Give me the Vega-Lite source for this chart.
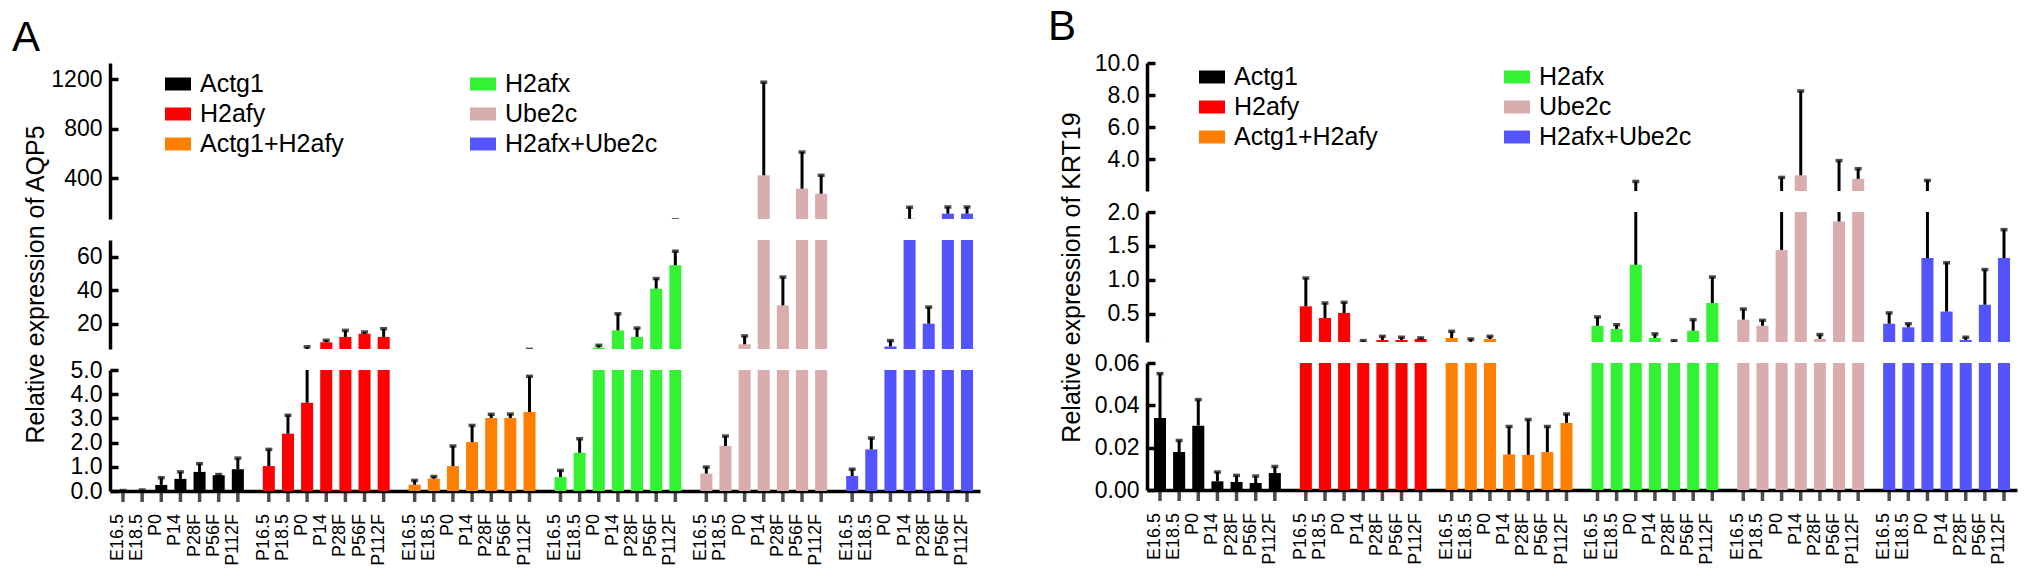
{
  "$schema": "https://vega.github.io/schema/vega-lite/v6.json",
  "background": "white",
  "padding": {"left": 12, "top": 6, "right": 5, "bottom": 5},
  "config": {
    "font": "Liberation Sans",
    "view": {"stroke": null},
    "axis": {"grid": false, "domainColor": "black", "domainWidth": 3.5, "tickColor": "black", "tickWidth": 3.5, "labelColor": "black", "labelFontSize": 23, "titleColor": "black", "titleFontSize": 25, "titleFontWeight": "normal"},
    "axisY": {"tickSize": -8, "labelPadding": 16, "labelOverlap": false},
    "legend": {"orient": "none", "columns": 2, "columnPadding": 126, "rowPadding": 4, "symbolType": "M-1,-0.5H1V0.5H-1Z", "symbolSize": 676, "symbolStrokeWidth": 0, "labelFontSize": 25, "labelOffset": 9, "labelColor": "black", "padding": 0, "title": null},
    "title": {"fontWeight": "normal", "color": "black"}
  },
  "datasets": {
    "a": [
      {"g": "Actg1", "t": "E16.5", "l": "E16.5", "m": 0.02, "u": 0.02},
      {"g": "Actg1", "t": "E18.5", "l": "E18.5", "m": 0.04, "u": 0.04},
      {"g": "Actg1", "t": "P0", "l": "P0", "m": 0.25, "u": 0.55},
      {"g": "Actg1", "t": "P14", "l": "P14", "m": 0.5, "u": 0.79},
      {"g": "Actg1", "t": "P28F", "l": "P28F", "m": 0.79, "u": 1.13},
      {"g": "Actg1", "t": "P56F", "l": "P56F", "m": 0.65, "u": 0.68},
      {"g": "Actg1", "t": "P112F", "l": "P112F", "m": 0.9, "u": 1.36},
      {"g": "H2afy", "t": "E16.5", "l": "P16.5", "m": 1.03, "u": 1.72},
      {"g": "H2afy", "t": "E18.5", "l": "P18.5", "m": 2.37, "u": 3.13},
      {"g": "H2afy", "t": "P0", "l": "P0", "m": 3.65, "u": 6.3},
      {"g": "H2afy", "t": "P14", "l": "P14", "m": 9.0, "u": 10.2},
      {"g": "H2afy", "t": "P28F", "l": "P28F", "m": 12.2, "u": 16.1},
      {"g": "H2afy", "t": "P56F", "l": "P56F", "m": 14.1, "u": 15.1},
      {"g": "H2afy", "t": "P112F", "l": "P112F", "m": 12.2, "u": 17.1},
      {"g": "Actg1+H2afy", "t": "E16.5", "l": "E16.5", "m": 0.26, "u": 0.44},
      {"g": "Actg1+H2afy", "t": "E18.5", "l": "E18.5", "m": 0.51, "u": 0.6},
      {"g": "Actg1+H2afy", "t": "P0", "l": "P0", "m": 1.03, "u": 1.86},
      {"g": "Actg1+H2afy", "t": "P14", "l": "P14", "m": 2.02, "u": 2.71},
      {"g": "Actg1+H2afy", "t": "P28F", "l": "P28F", "m": 3.02, "u": 3.17},
      {"g": "Actg1+H2afy", "t": "P56F", "l": "P56F", "m": 3.02, "u": 3.18},
      {"g": "Actg1+H2afy", "t": "P112F", "l": "P112F", "m": 3.26, "u": 4.74},
      {"g": "H2afx", "t": "E16.5", "l": "E16.5", "m": 0.58, "u": 0.85},
      {"g": "H2afx", "t": "E18.5", "l": "E18.5", "m": 1.58, "u": 2.16},
      {"g": "H2afx", "t": "P0", "l": "P0", "m": 5.8, "u": 7.2},
      {"g": "H2afx", "t": "P14", "l": "P14", "m": 16.1, "u": 26},
      {"g": "H2afx", "t": "P28F", "l": "P28F", "m": 12.2, "u": 17.5},
      {"g": "H2afx", "t": "P56F", "l": "P56F", "m": 41, "u": 47},
      {"g": "H2afx", "t": "P112F", "l": "P112F", "m": 54.9, "u": 63.3},
      {"g": "Ube2c", "t": "E16.5", "l": "E16.5", "m": 0.72, "u": 0.99},
      {"g": "Ube2c", "t": "E18.5", "l": "P18.5", "m": 1.86, "u": 2.27},
      {"g": "Ube2c", "t": "P0", "l": "P0", "m": 7.8, "u": 12.8},
      {"g": "Ube2c", "t": "P14", "l": "P14", "m": 423, "u": 1175},
      {"g": "Ube2c", "t": "P28F", "l": "P28F", "m": 31, "u": 47.9},
      {"g": "Ube2c", "t": "P56F", "l": "P56F", "m": 315, "u": 611},
      {"g": "Ube2c", "t": "P112F", "l": "P112F", "m": 274, "u": 423},
      {"g": "H2afx+Ube2c", "t": "E16.5", "l": "E16.5", "m": 0.62, "u": 0.9},
      {"g": "H2afx+Ube2c", "t": "E18.5", "l": "E18.5", "m": 1.72, "u": 2.19},
      {"g": "H2afx+Ube2c", "t": "P0", "l": "P0", "m": 6.5, "u": 10},
      {"g": "H2afx+Ube2c", "t": "P14", "l": "P14", "m": 72, "u": 165},
      {"g": "H2afx+Ube2c", "t": "P28F", "l": "P28F", "m": 20.1, "u": 30},
      {"g": "H2afx+Ube2c", "t": "P56F", "l": "P56F", "m": 113, "u": 167},
      {"g": "H2afx+Ube2c", "t": "P112F", "l": "P112F", "m": 113, "u": 167}
    ],
    "b": [
      {"g": "Actg1", "t": "E16.5", "l": "E16.5", "m": 0.034, "u": 0.055},
      {"g": "Actg1", "t": "E18.5", "l": "E18.5", "m": 0.0179, "u": 0.0234},
      {"g": "Actg1", "t": "P0", "l": "P0", "m": 0.0304, "u": 0.0427},
      {"g": "Actg1", "t": "P14", "l": "P14", "m": 0.0041, "u": 0.0085},
      {"g": "Actg1", "t": "P28F", "l": "P28F", "m": 0.0038, "u": 0.0069},
      {"g": "Actg1", "t": "P56F", "l": "P56F", "m": 0.0033, "u": 0.0066},
      {"g": "Actg1", "t": "P112F", "l": "P112F", "m": 0.008, "u": 0.0111},
      {"g": "H2afy", "t": "E16.5", "l": "P16.5", "m": 0.607, "u": 1.025},
      {"g": "H2afy", "t": "E18.5", "l": "P18.5", "m": 0.435, "u": 0.656},
      {"g": "H2afy", "t": "P0", "l": "P0", "m": 0.508, "u": 0.666},
      {"g": "H2afy", "t": "P14", "l": "P14", "m": 0.082, "u": 0.1},
      {"g": "H2afy", "t": "P28F", "l": "P28F", "m": 0.11, "u": 0.164},
      {"g": "H2afy", "t": "P56F", "l": "P56F", "m": 0.11, "u": 0.15},
      {"g": "H2afy", "t": "P112F", "l": "P112F", "m": 0.124, "u": 0.14},
      {"g": "Actg1+H2afy", "t": "E16.5", "l": "E16.5", "m": 0.139, "u": 0.238},
      {"g": "Actg1+H2afy", "t": "E18.5", "l": "E18.5", "m": 0.082, "u": 0.124},
      {"g": "Actg1+H2afy", "t": "P0", "l": "P0", "m": 0.124, "u": 0.164},
      {"g": "Actg1+H2afy", "t": "P14", "l": "P14", "m": 0.0168, "u": 0.03},
      {"g": "Actg1+H2afy", "t": "P28F", "l": "P28F", "m": 0.0166, "u": 0.0333},
      {"g": "Actg1+H2afy", "t": "P56F", "l": "P56F", "m": 0.0179, "u": 0.03},
      {"g": "Actg1+H2afy", "t": "P112F", "l": "P112F", "m": 0.0317, "u": 0.0359},
      {"g": "H2afx", "t": "E16.5", "l": "E16.5", "m": 0.32, "u": 0.45},
      {"g": "H2afx", "t": "E18.5", "l": "E18.5", "m": 0.272, "u": 0.335},
      {"g": "H2afx", "t": "P0", "l": "P0", "m": 1.22, "u": 2.6},
      {"g": "H2afx", "t": "P14", "l": "P14", "m": 0.139, "u": 0.2},
      {"g": "H2afx", "t": "P28F", "l": "P28F", "m": 0.082, "u": 0.1},
      {"g": "H2afx", "t": "P56F", "l": "P56F", "m": 0.247, "u": 0.41},
      {"g": "H2afx", "t": "P112F", "l": "P112F", "m": 0.656, "u": 1.04},
      {"g": "Ube2c", "t": "E16.5", "l": "E16.5", "m": 0.41, "u": 0.567},
      {"g": "Ube2c", "t": "E18.5", "l": "P18.5", "m": 0.32, "u": 0.4},
      {"g": "Ube2c", "t": "P0", "l": "P0", "m": 1.44, "u": 2.85},
      {"g": "Ube2c", "t": "P14", "l": "P14", "m": 2.98, "u": 8.25},
      {"g": "Ube2c", "t": "P28F", "l": "P28F", "m": 0.124, "u": 0.19},
      {"g": "Ube2c", "t": "P56F", "l": "P56F", "m": 1.86, "u": 3.9},
      {"g": "Ube2c", "t": "P112F", "l": "P112F", "m": 2.76, "u": 3.39},
      {"g": "H2afx+Ube2c", "t": "E16.5", "l": "E16.5", "m": 0.35, "u": 0.51},
      {"g": "H2afx+Ube2c", "t": "E18.5", "l": "E18.5", "m": 0.297, "u": 0.35},
      {"g": "H2afx+Ube2c", "t": "P0", "l": "P0", "m": 1.32, "u": 2.66},
      {"g": "H2afx+Ube2c", "t": "P14", "l": "P14", "m": 0.53, "u": 1.25},
      {"g": "H2afx+Ube2c", "t": "P28F", "l": "P28F", "m": 0.11, "u": 0.15},
      {"g": "H2afx+Ube2c", "t": "P56F", "l": "P56F", "m": 0.63, "u": 1.15},
      {"g": "H2afx+Ube2c", "t": "P112F", "l": "P112F", "m": 1.32, "u": 1.74}
    ]
  },
  "resolve": {"scale": {"color": "independent"}, "legend": {"color": "independent"}},
  "spacing": 68,
  "hconcat": [
    {
      "bounds": "flush",
      "spacing": 21,
      "resolve": {"scale": {"y": "independent", "color": "independent"}, "legend": {"color": "independent"}},
      "vconcat": [
        {
          "width": 870, "height": 156,
          "title": {"text": "A", "anchor": "start", "frame": "group", "fontSize": 42, "dx": -98, "offset": 3},
          "data": {"name": "a"},
          "encoding": {
            "x": {"field": "g", "type": "nominal", "scale": {"domain": ["Actg1", "H2afy", "Actg1+H2afy", "H2afx", "Ube2c", "H2afx+Ube2c"], "paddingInner": 0.0813, "paddingOuter": 0.0235}, "axis": null},
            "xOffset": {"field": "t", "type": "nominal", "scale": {"domain": ["E16.5", "E18.5", "P0", "P14", "P28F", "P56F", "P112F"], "paddingInner": 0.37, "paddingOuter": 0.185}}
          },
          "layer": [
            {"mark": {"type": "bar", "clip": true},
             "encoding": {
               "y": {"field": "m", "type": "quantitative", "scale": {"domain": [70, 1330], "nice": false, "zero": false}, "axis": {"values": [400, 800, 1200], "tickCount": 10, "format": "d", "labelOverlap": false, "title": null}},
               "color": {"field": "g", "type": "nominal", "scale": {"domain": ["Actg1", "H2afy", "Actg1+H2afy", "H2afx", "Ube2c", "H2afx+Ube2c"], "range": ["#000000", "#ff0000", "#ff8000", "#33f233", "#d9adad", "#5454ff"]}, "legend": {"legendX": 55, "legendY": 8}}
             }},
            {"mark": {"type": "rule", "clip": true, "color": "black", "strokeWidth": 3}, "encoding": {"y": {"field": "m", "type": "quantitative"}, "y2": {"field": "u"}}},
            {"mark": {"type": "tick", "clip": true, "color": "black", "size": 7, "thickness": 3.5}, "encoding": {"y": {"field": "u", "type": "quantitative"}}}
          ]
        },
        {
          "width": 870, "height": 109,
          "data": {"name": "a"},
          "encoding": {
            "x": {"field": "g", "type": "nominal", "scale": {"domain": ["Actg1", "H2afy", "Actg1+H2afy", "H2afx", "Ube2c", "H2afx+Ube2c"], "paddingInner": 0.0813, "paddingOuter": 0.0235}, "axis": null},
            "xOffset": {"field": "t", "type": "nominal", "scale": {"domain": ["E16.5", "E18.5", "P0", "P14", "P28F", "P56F", "P112F"], "paddingInner": 0.37, "paddingOuter": 0.185}}
          },
          "layer": [
            {"mark": {"type": "bar", "clip": true},
             "encoding": {
               "y": {"field": "m", "type": "quantitative", "scale": {"domain": [5, 70], "nice": false, "zero": false}, "axis": {"values": [20, 40, 60], "tickCount": 10, "labelOverlap": false, "title": "Relative expression of AQP5", "titleAngle": 270, "titleAlign": "center", "titleBaseline": "alphabetic", "titleX": -67, "titleY": 44}},
               "color": {"field": "g", "type": "nominal", "scale": {"domain": ["Actg1", "H2afy", "Actg1+H2afy", "H2afx", "Ube2c", "H2afx+Ube2c"], "range": ["#000000", "#ff0000", "#ff8000", "#33f233", "#d9adad", "#5454ff"]}, "legend": null}
             }},
            {"mark": {"type": "rule", "clip": true, "color": "black", "strokeWidth": 3}, "encoding": {"y": {"field": "m", "type": "quantitative"}, "y2": {"field": "u"}}},
            {"mark": {"type": "tick", "clip": true, "color": "black", "size": 7, "thickness": 3.5}, "encoding": {"y": {"field": "u", "type": "quantitative"}}}
          ]
        },
        {
          "width": 870, "height": 121,
          "data": {"name": "a"},
          "encoding": {
            "x": {"field": "g", "type": "nominal", "scale": {"domain": ["Actg1", "H2afy", "Actg1+H2afy", "H2afx", "Ube2c", "H2afx+Ube2c"], "paddingInner": 0.0813, "paddingOuter": 0.0235}, "axis": {"labels": false, "ticks": false, "title": null}},
            "xOffset": {"field": "t", "type": "nominal", "scale": {"domain": ["E16.5", "E18.5", "P0", "P14", "P28F", "P56F", "P112F"], "paddingInner": 0.37, "paddingOuter": 0.185}}
          },
          "layer": [
            {"mark": {"type": "bar", "clip": true},
             "encoding": {
               "y": {"field": "m", "type": "quantitative", "scale": {"domain": [0, 5], "nice": false}, "axis": {"values": [0, 1, 2, 3, 4, 5], "tickCount": 10, "labelOverlap": false, "title": null}},
               "color": {"field": "g", "type": "nominal", "scale": {"domain": ["Actg1", "H2afy", "Actg1+H2afy", "H2afx", "Ube2c", "H2afx+Ube2c"], "range": ["#000000", "#ff0000", "#ff8000", "#33f233", "#d9adad", "#5454ff"]}, "legend": null}
             }},
            {"mark": {"type": "rule", "clip": true, "color": "black", "strokeWidth": 3}, "encoding": {"y": {"field": "m", "type": "quantitative"}, "y2": {"field": "u"}}},
            {"mark": {"type": "tick", "clip": true, "color": "black", "size": 7, "thickness": 3.5}, "encoding": {"y": {"field": "u", "type": "quantitative"}}},
            {"mark": {"type": "tick", "orient": "vertical", "color": "black", "size": 11, "thickness": 3.5, "yOffset": 5.5}, "encoding": {"y": {"datum": 0, "type": "quantitative"}}},
            {"mark": {"type": "text", "angle": 270, "align": "right", "baseline": "alphabetic", "fontSize": 18, "yOffset": 23, "xOffset": 2, "color": "black"}, "encoding": {"y": {"datum": 0, "type": "quantitative"}, "text": {"field": "l"}}}
          ]
        }
      ]
    },
    {
      "bounds": "flush",
      "spacing": 21,
      "resolve": {"scale": {"y": "independent", "color": "independent"}, "legend": {"color": "independent"}},
      "vconcat": [
        {
          "width": 870, "height": 128,
          "title": {"text": "B", "anchor": "start", "frame": "group", "fontSize": 42, "dx": -99, "offset": 3},
          "data": {"name": "b"},
          "encoding": {
            "x": {"field": "g", "type": "nominal", "scale": {"domain": ["Actg1", "H2afy", "Actg1+H2afy", "H2afx", "Ube2c", "H2afx+Ube2c"], "paddingInner": 0.0813, "paddingOuter": 0.0235}, "axis": null},
            "xOffset": {"field": "t", "type": "nominal", "scale": {"domain": ["E16.5", "E18.5", "P0", "P14", "P28F", "P56F", "P112F"], "paddingInner": 0.37, "paddingOuter": 0.185}}
          },
          "layer": [
            {"mark": {"type": "bar", "clip": true},
             "encoding": {
               "y": {"field": "m", "type": "quantitative", "scale": {"domain": [2, 10], "nice": false, "zero": false}, "axis": {"values": [4, 6, 8, 10], "tickCount": 10, "format": ".1f", "labelOverlap": false, "title": null}},
               "color": {"field": "g", "type": "nominal", "scale": {"domain": ["Actg1", "H2afy", "Actg1+H2afy", "H2afx", "Ube2c", "H2afx+Ube2c"], "range": ["#000000", "#ff0000", "#ff8000", "#33f233", "#d9adad", "#5454ff"]}, "legend": {"legendX": 52, "legendY": 1}}
             }},
            {"mark": {"type": "rule", "clip": true, "color": "black", "strokeWidth": 3}, "encoding": {"y": {"field": "m", "type": "quantitative"}, "y2": {"field": "u"}}},
            {"mark": {"type": "tick", "clip": true, "color": "black", "size": 7, "thickness": 3.5}, "encoding": {"y": {"field": "u", "type": "quantitative"}}}
          ]
        },
        {
          "width": 870, "height": 130,
          "data": {"name": "b"},
          "encoding": {
            "x": {"field": "g", "type": "nominal", "scale": {"domain": ["Actg1", "H2afy", "Actg1+H2afy", "H2afx", "Ube2c", "H2afx+Ube2c"], "paddingInner": 0.0813, "paddingOuter": 0.0235}, "axis": null},
            "xOffset": {"field": "t", "type": "nominal", "scale": {"domain": ["E16.5", "E18.5", "P0", "P14", "P28F", "P56F", "P112F"], "paddingInner": 0.37, "paddingOuter": 0.185}}
          },
          "layer": [
            {"mark": {"type": "bar", "clip": true},
             "encoding": {
               "y": {"field": "m", "type": "quantitative", "scale": {"domain": [0.08, 2.0], "nice": false, "zero": false}, "axis": {"values": [0.5, 1, 1.5, 2], "tickCount": 10, "format": ".1f", "labelOverlap": false, "title": "Relative expression of KRT19", "titleAngle": 270, "titleAlign": "center", "titleBaseline": "alphabetic", "titleX": -68, "titleY": 65}},
               "color": {"field": "g", "type": "nominal", "scale": {"domain": ["Actg1", "H2afy", "Actg1+H2afy", "H2afx", "Ube2c", "H2afx+Ube2c"], "range": ["#000000", "#ff0000", "#ff8000", "#33f233", "#d9adad", "#5454ff"]}, "legend": null}
             }},
            {"mark": {"type": "rule", "clip": true, "color": "black", "strokeWidth": 3}, "encoding": {"y": {"field": "m", "type": "quantitative"}, "y2": {"field": "u"}}},
            {"mark": {"type": "tick", "clip": true, "color": "black", "size": 7, "thickness": 3.5}, "encoding": {"y": {"field": "u", "type": "quantitative"}}}
          ]
        },
        {
          "width": 870, "height": 127,
          "data": {"name": "b"},
          "encoding": {
            "x": {"field": "g", "type": "nominal", "scale": {"domain": ["Actg1", "H2afy", "Actg1+H2afy", "H2afx", "Ube2c", "H2afx+Ube2c"], "paddingInner": 0.0813, "paddingOuter": 0.0235}, "axis": {"labels": false, "ticks": false, "title": null}},
            "xOffset": {"field": "t", "type": "nominal", "scale": {"domain": ["E16.5", "E18.5", "P0", "P14", "P28F", "P56F", "P112F"], "paddingInner": 0.37, "paddingOuter": 0.185}}
          },
          "layer": [
            {"mark": {"type": "bar", "clip": true},
             "encoding": {
               "y": {"field": "m", "type": "quantitative", "scale": {"domain": [0, 0.06], "nice": false}, "axis": {"values": [0, 0.02, 0.04, 0.06], "tickCount": 10, "format": ".2f", "labelOverlap": false, "title": null}},
               "color": {"field": "g", "type": "nominal", "scale": {"domain": ["Actg1", "H2afy", "Actg1+H2afy", "H2afx", "Ube2c", "H2afx+Ube2c"], "range": ["#000000", "#ff0000", "#ff8000", "#33f233", "#d9adad", "#5454ff"]}, "legend": null}
             }},
            {"mark": {"type": "rule", "clip": true, "color": "black", "strokeWidth": 3}, "encoding": {"y": {"field": "m", "type": "quantitative"}, "y2": {"field": "u"}}},
            {"mark": {"type": "tick", "clip": true, "color": "black", "size": 7, "thickness": 3.5}, "encoding": {"y": {"field": "u", "type": "quantitative"}}},
            {"mark": {"type": "tick", "orient": "vertical", "color": "black", "size": 11, "thickness": 3.5, "yOffset": 5.5}, "encoding": {"y": {"datum": 0, "type": "quantitative"}}},
            {"mark": {"type": "text", "angle": 270, "align": "right", "baseline": "alphabetic", "fontSize": 18, "yOffset": 23, "xOffset": 2, "color": "black"}, "encoding": {"y": {"datum": 0, "type": "quantitative"}, "text": {"field": "l"}}}
          ]
        }
      ]
    }
  ]
}
